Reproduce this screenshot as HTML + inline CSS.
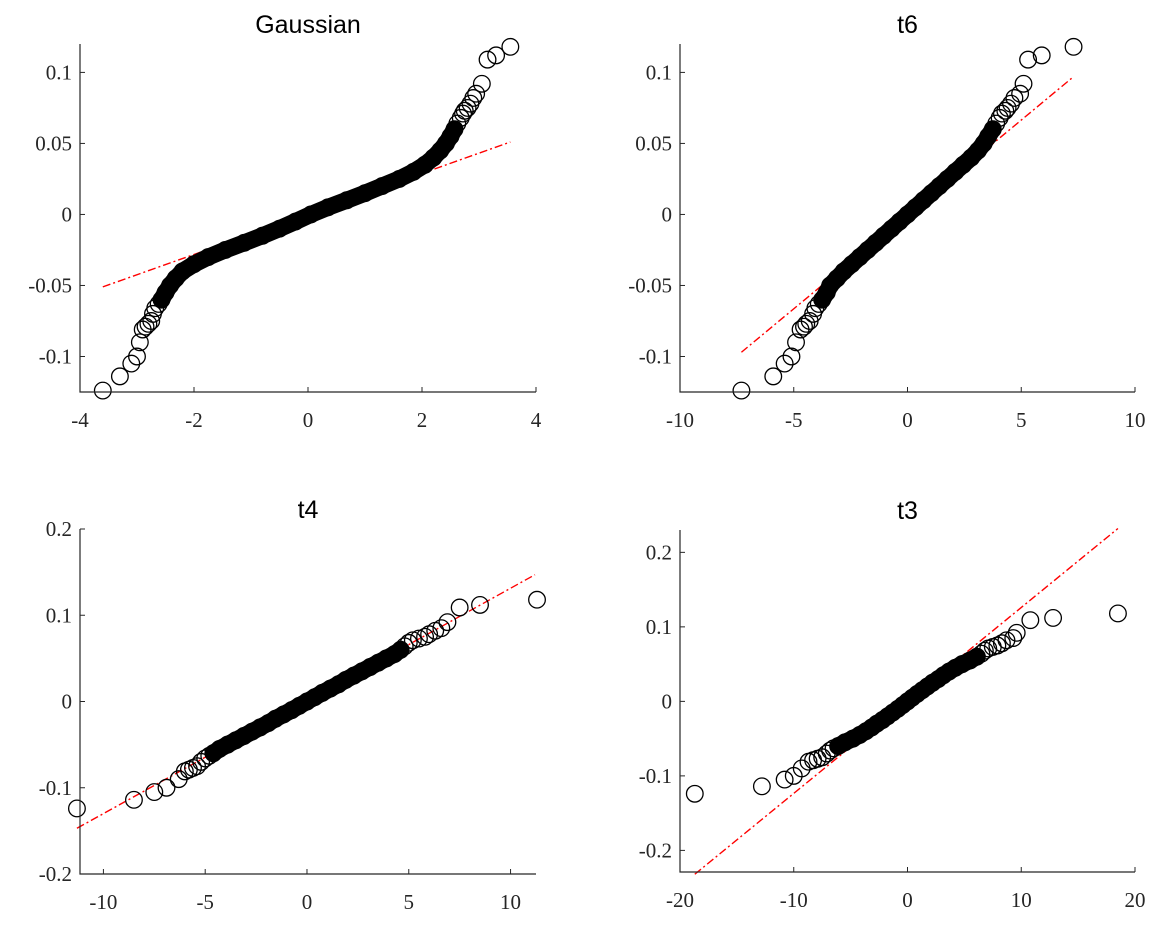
<!DOCTYPE html>
<html><head><meta charset="utf-8"><style>
body{margin:0;background:#fff;}
svg{display:block;}
.tick{font-family:"Liberation Serif",serif;font-size:21px;fill:#262626;}
.title{font-family:"Liberation Sans",sans-serif;font-size:25px;fill:#000;}
</style></head><body>
<svg id="chart" width="1161" height="951" viewBox="0 0 1161 951" xmlns="http://www.w3.org/2000/svg"></svg>
<script>
const sampleY = [-0.124,-0.114,-0.105,-0.100,-0.090,-0.081,-0.079,-0.077,-0.075,-0.070,-0.066,-0.063,-0.060,-0.055,
 -0.050,-0.045,-0.040,-0.035,-0.030,-0.025,-0.020,-0.015,-0.010,-0.005,0.000,
 0.005,0.010,0.015,0.020,0.025,0.030,0.035,0.040,0.045,0.050,0.055,0.060,
 0.064,0.068,0.071,0.073,0.075,0.078,0.082,0.085,0.092,0.109,0.112,0.118];
const gaussX = [-3.6,-3.3,-3.1,-3.0,-2.95,-2.9,-2.85,-2.8,-2.75,-2.72,-2.68,-2.62,-2.57,-2.5,
 -2.42,-2.32,-2.2,-2.0,-1.75,-1.45,-1.12,-0.8,-0.5,-0.22,0.05,
 0.35,0.68,1.0,1.3,1.6,1.85,2.05,2.2,2.32,2.42,2.5,2.57,
 2.62,2.68,2.72,2.75,2.8,2.85,2.9,2.95,3.05,3.15,3.3,3.55];
const t6X = [-7.3,-5.9,-5.4,-5.1,-4.9,-4.7,-4.55,-4.45,-4.3,-4.15,-4.05,-3.9,-3.75,-3.55,
 -3.4,-3.1,-2.8,-2.45,-2.1,-1.75,-1.4,-1.05,-0.7,-0.35,0,
 0.35,0.7,1.05,1.4,1.75,2.1,2.45,2.8,3.1,3.35,3.55,3.75,
 3.9,4.05,4.15,4.3,4.4,4.55,4.7,4.95,5.1,5.3,5.9,7.3];
const t4X = [-11.3,-8.5,-7.5,-6.9,-6.3,-6.0,-5.8,-5.6,-5.4,-5.2,-5.0,-4.8,-4.6,-4.3,
 -3.9,-3.5,-3.1,-2.7,-2.3,-1.9,-1.55,-1.15,-0.75,-0.38,0,
 0.38,0.75,1.15,1.55,1.9,2.3,2.7,3.1,3.5,3.9,4.3,4.6,
 4.8,5.0,5.2,5.5,5.8,6.0,6.3,6.6,6.9,7.5,8.5,11.3];
const t3X = [-18.7,-12.8,-10.8,-10.0,-9.3,-8.7,-8.3,-7.9,-7.5,-7.1,-6.8,-6.5,-6.1,-5.5,
 -4.8,-4.2,-3.65,-3.15,-2.7,-2.2,-1.75,-1.3,-0.85,-0.42,0,
 0.42,0.85,1.3,1.75,2.2,2.7,3.15,3.65,4.2,4.8,5.5,6.1,
 6.5,6.8,7.1,7.5,7.9,8.3,8.7,9.3,9.6,10.8,12.8,18.5];
const refGauss = [[-3.6,-0.051],[3.55,0.051]];
const refT6 = [[-7.3,-0.097],[7.3,0.097]];
const refT4 = [[-11.3,-0.147],[11.2,0.147]];
const refT3 = [[-18.7,-0.232],[18.5,0.232]];
const ticksY12 = [-0.1,-0.05,0,0.05,0.1];
const ticksY12Lab = ["-0.1","-0.05","0","0.05","0.1"];
const ticksYLow = [-0.2,-0.1,0,0.1,0.2];
const ticksYLowLab = ["-0.2","-0.1","0","0.1","0.2"];
const ticksXG = [-4,-2,0,2,4];
const ticksX6 = [-10,-5,0,5,10];
const ticksX4 = [-10,-5,0,5,10];
const ticksX3 = [-20,-10,0,10,20];

const NS="http://www.w3.org/2000/svg";
const svg=document.getElementById('chart');
function mk(tag,attrs,parent){const e=document.createElementNS(NS,tag);for(const k in attrs)e.setAttribute(k,attrs[k]);parent.appendChild(e);return e;}

const panels=[
 {name:'gaussian',title:'Gaussian',xs:gaussX,ref:refGauss,xd:[-4,4],yd:[-0.125,0.12],px:[80,536],py:[392,44],xt:ticksXG,yt:ticksY12,ytl:ticksY12Lab},
 {name:'t6',title:'t6',xs:t6X,ref:refT6,xd:[-10,10],yd:[-0.125,0.12],px:[680,1135],py:[392,44],xt:ticksX6,yt:ticksY12,ytl:ticksY12Lab},
 {name:'t4',title:'t4',xs:t4X,ref:refT4,xd:[-11.15,11.25],yd:[-0.2,0.2],px:[80,536],py:[874,529],xt:ticksX4,yt:ticksYLow,ytl:ticksYLowLab},
 {name:'t3',title:'t3',xs:t3X,ref:refT3,xd:[-20,20],yd:[-0.229,0.23],px:[680,1135],py:[872,530],xt:ticksX3,yt:ticksYLow,ytl:ticksYLowLab}
];
panels.forEach(p=>{
 const g=mk('g',{},svg);
 
 
 const sx=v=>p.px[0]+(v-p.xd[0])/(p.xd[1]-p.xd[0])*(p.px[1]-p.px[0]);
 const sy=v=>p.py[0]+(v-p.yd[0])/(p.yd[1]-p.yd[0])*(p.py[1]-p.py[0]);
 const cx=(p.px[0]+p.px[1])/2;
 const t=mk('text',{x:cx,y:p.py[1]-11,'text-anchor':'middle',class:'title'},g);
 t.textContent=p.title;
 
 
 const l=mk('line',{x1:sx(p.ref[0][0]),y1:sy(p.ref[0][1]),x2:sx(p.ref[1][0]),y2:sy(p.ref[1][1]),stroke:'#ff0000','stroke-width':1.4,'stroke-dasharray':'8,3,2,3'},g);
 
 
 const core=[];
 for(let i=0;i<sampleY.length;i++){ if(Math.abs(sampleY[i])<=0.06) core.push(sx(p.xs[i])+','+sy(sampleY[i])); }
 const pl=mk('polyline',{points:core.join(' '),fill:'none',stroke:'#000','stroke-width':17,'stroke-linecap':'round','stroke-linejoin':'round'},g);
 
 
 for(let i=0;i<sampleY.length;i++){
  const c=mk('circle',{cx:sx(p.xs[i]),cy:sy(sampleY[i]),r:8.3,fill:'none',stroke:'#000','stroke-width':1.3},g);
  
  
 }
 const ax=mk('path',{d:`M${p.px[0]},${p.py[1]} V${p.py[0]} H${p.px[1]}`,fill:'none',stroke:'#262626','stroke-width':1.2},g);
 
 
 p.xt.forEach(v=>{
  const x=sx(v);
  mk('line',{x1:x,y1:p.py[0],x2:x,y2:p.py[0]-5,stroke:'#262626','stroke-width':1},g);
  const tx=mk('text',{x:x,y:p.py[0]+35,'text-anchor':'middle',class:'tick'},g);
  tx.textContent=String(v);
  
  
 });
 p.yt.forEach((v,i)=>{
  const y=sy(v);
  mk('line',{x1:p.px[0],y1:y,x2:p.px[0]+5,y2:y,stroke:'#262626','stroke-width':1},g);
  const ty=mk('text',{x:p.px[0]-8,y:y+7,'text-anchor':'end',class:'tick'},g);
  ty.textContent=p.ytl[i];
  
  
 });
});
</script>
</body></html>
